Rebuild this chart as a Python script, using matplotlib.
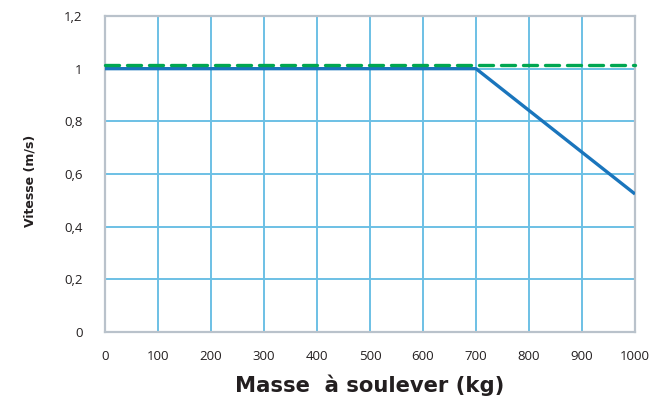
import matplotlib
matplotlib.use("Agg")
import matplotlib.pyplot as plt

masse = [0, 700, 1000]
vitesse = [1.0, 1.0, 0.524]
masse_ref = [0, 1000]
vitesse_ref = [1.015, 1.015]
xticks = [0, 100, 200, 300, 400, 500, 600, 700, 800, 900, 1000]
yticks = [0, 0.2, 0.4, 0.6, 0.8, 1.0, 1.2]
ytick_labels = ["0", "0,2", "0,4", "0,6", "0,8", "1", "1,2"]

plt.rcParams['font.family'] = ['Open Sans', 'DejaVu Sans']

fig = plt.figure(figsize=(6.52, 4.04), dpi=100)
ax = fig.add_axes([105/652, 1-332/404, 530/652, 316/404])

grid_c = "#6cc0e5"
ax.set_xlim(0, 1000)
ax.set_ylim(0, 1.2)
ax.set_xticks(xticks)
ax.set_xticklabels([str(v) for v in xticks])
ax.set_yticks(yticks)
ax.set_yticklabels(ytick_labels)
ax.grid(True, color=grid_c, linewidth=1.4)
ax.set_axisbelow(True)
ax.tick_params(length=0, labelsize=9.5, colors="#231f20")
ax.tick_params(axis='x', pad=13)
ax.tick_params(axis='y', pad=16)
for s in ax.spines.values():
    s.set_color("#b9c2cb")
    s.set_linewidth(1.6)

ax.plot(masse, vitesse, color="#1a75bc", linewidth=2.4, solid_capstyle='butt', zorder=3)
ln, = ax.plot(masse_ref, vitesse_ref, color="#00a651", linewidth=2.4, zorder=4, clip_on=False)
ln.set_dashes([4.2, 2.4])
ln.set_dash_capstyle('round')

ax.set_xlabel("Masse  à soulever (kg)", fontsize=15.2, fontweight='bold', color="#231f20",
              labelpad=8, family=['DejaVu Sans'])
ax.set_ylabel("Vitesse (m/s)", fontsize=9, fontweight='bold', color="#231f20",
              family=['DejaVu Sans'], va='center')
ax.yaxis.set_label_coords(-0.142, 0.478)

fig.savefig("out.png", dpi=100)
